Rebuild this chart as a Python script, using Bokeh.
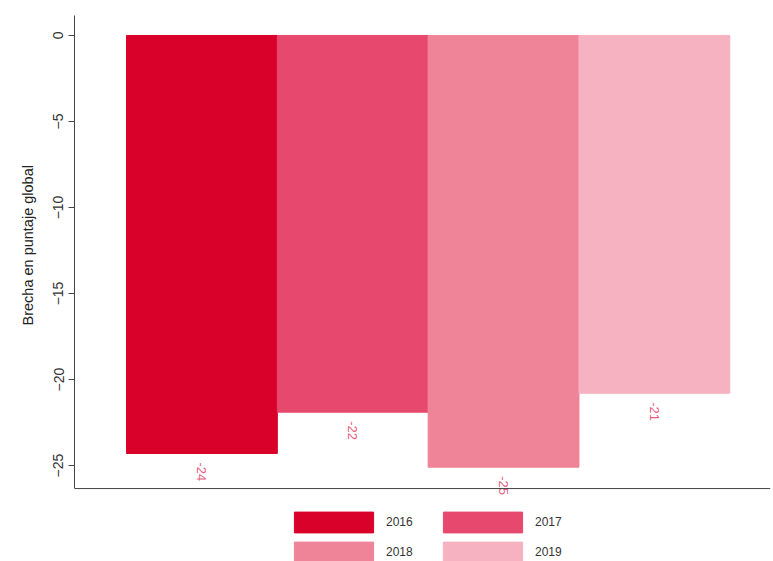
import math
from bokeh.plotting import figure
from bokeh.models import ColumnDataSource, FixedTicker, Legend, LegendItem, Range1d, Span, Title
from bokeh.core.properties import value
from bokeh.embed import file_html
from bokeh.resources import INLINE

years = ["2016", "2017", "2018", "2019"]
gaps = [-24.3, -21.9, -25.1, -20.8]
labels = ["-24", "-22", "-25", "-21"]
colors = ["#d90029", "#e6496d", "#ef8398", "#f6b2c0"]
yticks = [0, -5, -10, -15, -20, -25]
y_top, y_axis_bottom, y_frame_bottom = 1.16, -26.34, -30.58

FONT = "Liberation Sans"

p = figure(width=773, height=561, output_backend="svg", toolbar_location=None,
           x_range=Range1d(-0.845, 3.77), y_range=Range1d(y_frame_bottom, y_top),
           min_border_left=74, min_border_top=15, min_border_right=3, min_border_bottom=0)
p.outline_line_color = None
p.xgrid.visible = False
p.ygrid.visible = False
p.xaxis.visible = False

xs = list(range(len(years)))
src = ColumnDataSource(dict(x=xs, bottom=gaps, year=years, lab=labels))

renderers = []
for i in range(len(years)):
    r = p.vbar(x=[xs[i]], top=[0], bottom=[gaps[i]], width=1.0,
               fill_color=colors[i], line_color=colors[i], line_width=1)
    renderers.append(r)

p.text(x="x", y="bottom", text="lab", source=src, angle=-math.pi / 2,
       text_align="left", text_baseline="middle", y_offset=9,
       text_color="#e8607f", text_font=value(FONT), text_font_size="13px")

# x axis line
p.add_layout(Span(location=y_axis_bottom, dimension="width", line_color="#444444", line_width=1))

# y axis
ya = p.yaxis[0]
ya.bounds = (y_axis_bottom, y_top)
ya.ticker = FixedTicker(ticks=yticks)
ya.major_label_orientation = "vertical"
ya.major_label_text_font = FONT
ya.major_label_text_font_size = "14px"
ya.major_label_text_color = "#333333"
ya.axis_line_color = "#444444"
ya.major_tick_line_color = "#444444"
ya.major_tick_out = 6
ya.major_tick_in = 0
ya.minor_tick_line_color = None

ytitle = Title(text="Brecha en puntaje global", align="left", offset=236,
               text_font=FONT, text_font_style="normal", text_font_size="14.5px",
               text_color="#222222", standoff=30)
p.add_layout(ytitle, "left")

order = [0, 2, 1, 3]
items = [LegendItem(label=years[i], renderers=[renderers[i]]) for i in order]
legend = Legend(items=items, ncols=2, location=(210, -4),
                glyph_width=99, glyph_height=26, label_standoff=3, label_width=43,
                spacing=4, label_text_font=FONT, label_text_font_size="12px",
                label_text_color="#333333", border_line_color=None,
                background_fill_alpha=0, padding=0, margin=0)
p.add_layout(legend, "center")

open("out.html", "w").write(file_html(p, INLINE))
